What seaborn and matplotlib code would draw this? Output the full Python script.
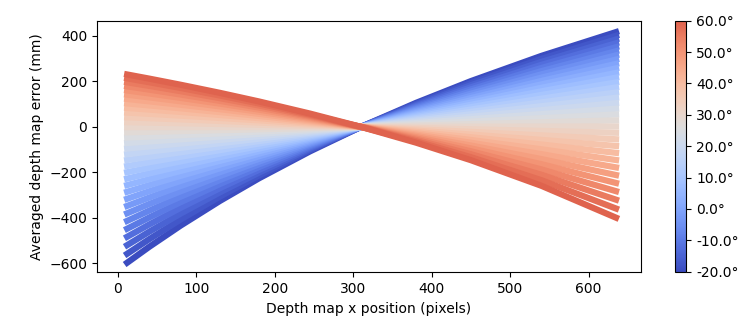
import matplotlib
matplotlib.use("Agg")
import matplotlib.pyplot as plt
from matplotlib.colors import Normalize, ListedColormap
import numpy as np
import pandas as pd
import seaborn as sns

# calibration angle of each run (degrees)
angles = [-20.0, -17.5, -15.0, -12.5, -10.0, -7.5, -5.0, -2.5, 0.0, 2.5, 5.0,
          7.5, 10.0, 12.5, 15.0, 17.5, 20.0, 22.5, 25.0, 27.5, 30.0, 32.5,
          35.0, 37.5, 40.0, 42.5, 45.0, 47.5, 50.0, 52.5, 55.0, 57.5, 60.0]

# sampled x positions along the depth map (pixels)
x_pos = [12, 40, 80, 130, 180, 245, 310, 380, 450, 540, 635]

# averaged error (mm) at each sampled x, one value per angle
err_x12 = [-597.7, -558.4, -520.4, -483.6, -448.1, -413.6, -380.2, -347.8, -316.4,
           -285.8, -256.2, -227.5, -199.5, -172.4, -145.9, -120.2, -95.2, -70.8,
           -47.1, -24.0, -1.4, 20.6, 42.0, 62.9, 83.3, 103.2, 122.7, 141.7, 160.2,
           178.3, 196.1, 213.4, 230.4]
err_x40 = [-528.1, -494.4, -461.6, -429.8, -398.9, -368.8, -339.6, -311.2, -283.5,
           -256.5, -230.4, -204.8, -179.9, -155.6, -131.9, -108.8, -86.3, -64.2,
           -42.8, -21.8, -1.3, 18.7, 38.3, 57.4, 76.2, 94.5, 112.4, 129.9, 147.1,
           163.9, 180.4, 196.4, 212.3]
err_x80 = [-434.6, -407.9, -381.8, -356.4, -331.6, -307.3, -283.6, -260.4, -237.8,
           -215.7, -194.0, -172.8, -152.1, -131.8, -112.0, -92.5, -73.5, -54.9,
           -36.6, -18.7, -1.1, 16.1, 33.0, 49.5, 65.8, 81.7, 97.3, 112.7, 127.7,
           142.5, 157.1, 171.3, 185.3]
err_x130 = [-326.2, -307.1, -288.3, -269.9, -251.8, -234.0, -216.6, -199.5, -182.6,
            -166.0, -149.7, -133.7, -118.0, -102.5, -87.3, -72.3, -57.5, -43.0,
            -28.8, -14.7, -0.9, 12.7, 26.2, 39.3, 52.4, 65.2, 77.8, 90.2, 102.4,
            114.5, 126.4, 138.1, 149.7]
err_x180 = [-226.3, -213.7, -201.2, -188.9, -176.7, -164.6, -152.8, -141.0, -129.4,
            -118.0, -106.7, -95.5, -84.5, -73.5, -62.8, -52.1, -41.6, -31.2, -20.8,
            -10.7, -0.6, 9.3, 19.1, 28.9, 38.5, 48.0, 57.4, 66.7, 75.9, 85.0, 94.0,
            102.9, 111.7]
err_x245 = [-107.7, -102.0, -96.4, -90.7, -85.1, -79.6, -74.1, -68.7, -63.2, -57.8,
            -52.4, -47.1, -41.8, -36.5, -31.2, -26.0, -20.8, -15.6, -10.5, -5.4,
            -0.3, 4.7, 9.7, 14.7, 19.7, 24.6, 29.5, 34.4, 39.2, 44.0, 48.9, 53.6,
            58.4]
err_x310 = [0.0] * len(angles)
err_x380 = [105.3, 100.4, 95.4, 90.4, 85.4, 80.3, 75.2, 70.1, 64.9, 59.7, 54.5,
            49.2, 43.9, 38.6, 33.2, 27.8, 22.4, 17.0, 11.5, 5.9, 0.4, -5.2, -10.9,
            -16.6, -22.3, -28.0, -33.8, -39.6, -45.5, -51.4, -57.3, -63.3, -69.3]
err_x450 = [201.2, 192.2, 183.2, 174.1, 164.8, 155.5, 146.0, 136.4, 126.7, 116.9,
            107.0, 97.0, 86.8, 76.5, 66.1, 55.5, 44.8, 34.0, 23.1, 11.9, 0.7, -10.7,
            -22.2, -33.9, -45.7, -57.7, -69.9, -82.2, -94.7, -107.4, -120.2, -133.3,
            -146.5]
err_x540 = [312.3, 299.4, 286.2, 272.9, 259.2, 245.3, 231.2, 216.8, 202.1, 187.1,
            171.9, 156.4, 140.5, 124.2, 107.7, 90.9, 73.7, 56.2, 38.2, 19.9, 1.2,
            -17.9, -37.5, -57.4, -77.8, -98.7, -120.1, -141.9, -164.4, -187.3,
            -210.8, -234.8, -259.4]
err_x635 = [417.0, 401.0, 384.5, 367.7, 350.5, 332.8, 314.7, 296.0, 277.0, 257.4,
            237.3, 216.6, 195.4, 173.5, 151.1, 128.0, 104.2, 79.7, 54.5, 28.5, 1.7,
            -25.9, -54.5, -83.9, -114.3, -145.8, -178.3, -212.0, -246.9, -283.0,
            -320.4, -359.3, -399.6]

cbar_ticks = [-20, -10, 0, 10, 20, 30, 40, 50, 60]

columns = [err_x12, err_x40, err_x80, err_x130, err_x180, err_x245, err_x310,
           err_x380, err_x450, err_x540, err_x635]
rows = []
for i, a in enumerate(angles):
    for x, col in zip(x_pos, columns):
        rows.append((a, x, col[i]))
df = pd.DataFrame(rows, columns=["angle", "x", "err"])

# coolwarm, but the top only goes up to an orange-red
cmap = ListedColormap(plt.get_cmap("coolwarm")(np.linspace(0.0, 0.87, 256)))
norm = Normalize(vmin=-20, vmax=60)

fig = plt.figure(figsize=(7.5, 3.29), dpi=100)
ax = fig.add_axes([0.1293, 0.1723, 0.725, 0.7647])
sns.lineplot(data=df, x="x", y="err", hue="angle", palette=cmap, hue_norm=norm,
             estimator=None, sort=True, linewidth=4.5, legend=False, ax=ax)
ax.set_xlim(-26.5, 666.5)
ax.set_ylim(-640, 467)
ax.set_yticks([-600, -400, -200, 0, 200, 400])
ax.set_xlabel("Depth map x position (pixels)")
ax.set_ylabel("Averaged depth map error (mm)")

cax = fig.add_axes([0.8996, 0.174, 0.0155, 0.763])
sm = plt.cm.ScalarMappable(cmap=cmap, norm=norm)
cb = fig.colorbar(sm, cax=cax, ticks=cbar_ticks)
cb.ax.set_yticklabels([f"{t:.1f}°" for t in cbar_ticks])

fig.savefig("out.png", dpi=100)
